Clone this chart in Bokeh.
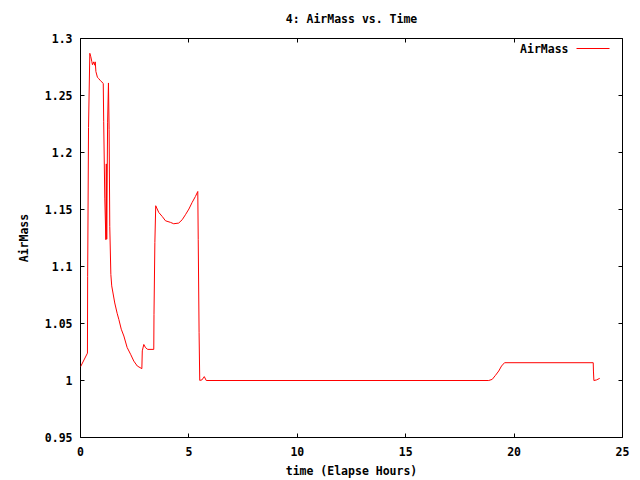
from bokeh.plotting import figure
from bokeh.models import (Range1d, FixedTicker, LinearAxis, CustomJSTickFormatter,
                          CustomLabelingPolicy, Label, Arrow)
from bokeh.embed import file_html
from bokeh.resources import INLINE

# ---- data ----
time_h = [0.0, 0.32, 0.33, 0.37, 0.43, 0.475, 0.52, 0.55, 0.61, 0.65, 0.68, 0.71,
          0.78, 0.83, 0.92, 1.05, 1.07, 1.12, 1.17, 1.19, 1.21, 1.25, 1.29, 1.32,
          1.35, 1.40, 1.44, 1.58, 1.69, 1.77, 1.88, 2.0, 2.15, 2.31, 2.46, 2.62,
          2.83, 2.85, 2.92, 3.0, 3.1, 3.38, 3.39, 3.43, 3.47, 3.61, 3.77, 3.92,
          4.15, 4.30, 4.53, 4.69, 4.84, 5.0, 5.15, 5.30, 5.41, 5.43, 5.47, 5.50,
          5.60, 5.71, 5.80, 18.83, 18.99, 19.14, 19.29, 19.42, 19.56, 23.65,
          23.66, 23.68, 23.8, 23.95]
airmass = [1.012, 1.024, 1.091, 1.222, 1.287, 1.284, 1.280, 1.277, 1.2795, 1.2766,
           1.2795, 1.271, 1.266, 1.265, 1.263, 1.2606, 1.227, 1.160, 1.1235, 1.19,
           1.124, 1.226, 1.261, 1.220, 1.135, 1.093, 1.083, 1.068, 1.059, 1.0535,
           1.045, 1.039, 1.029, 1.023, 1.017, 1.0127, 1.0104, 1.026, 1.0316, 1.0288,
           1.0273, 1.0273, 1.058, 1.121, 1.1533, 1.1474, 1.1439, 1.1401, 1.1387,
           1.1375, 1.1381, 1.141, 1.1454, 1.1504, 1.1562, 1.1614, 1.1658, 1.1235,
           1.0419, 1.0001, 1.0005, 1.0034, 1.0, 1.0, 1.001, 1.0045, 1.0083, 1.0127,
           1.0156, 1.0156, 1.0083, 1.0, 1.0005, 1.0019]
x_ticks = [0, 5, 10, 15, 20, 25]
y_ticks = [0.95, 1.0, 1.05, 1.1, 1.15, 1.2, 1.25, 1.3]
title_text = "4: AirMass vs. Time"
x_label = "time (Elapse Hours)"
y_label = "AirMass"
series_name = "AirMass"

FONT = "DejaVu Sans Mono"
FS = "11.5px"

p = figure(width=640, height=480, output_backend="svg", toolbar_location=None,
           x_range=Range1d(0, 25), y_range=Range1d(0.95, 1.3),
           min_border_left=80, min_border_right=18, min_border_top=38,
           min_border_bottom=42, title=title_text)
p.title.align = "center"
p.title.text_font = FONT
p.title.text_font_size = FS
p.title.text_font_style = "bold"
p.title.text_color = "black"
p.title.standoff = 18

p.xgrid.visible = False
p.ygrid.visible = False
p.outline_line_color = "black"
p.outline_line_width = 1
p.background_fill_color = "white"
p.border_fill_color = "white"

fmt = CustomJSTickFormatter(code="return String(Number(tick.toFixed(2)));")
no_labels = CustomLabelingPolicy(code="return [];")

def style_axis(ax, ticks, labels=True):
    ax.ticker = FixedTicker(ticks=ticks)
    ax.formatter = fmt
    ax.axis_line_color = None
    ax.major_tick_in = 4
    ax.major_tick_out = 0
    ax.minor_tick_in = 0
    ax.minor_tick_out = 0
    ax.major_tick_line_color = "black"
    ax.major_label_text_font = FONT
    ax.major_label_text_font_style = "bold"
    ax.major_label_text_color = "black"
    if labels:
        ax.major_label_text_font_size = FS
        ax.axis_label_text_font = FONT
        ax.axis_label_text_font_size = FS
        ax.axis_label_text_font_style = "bold"
        ax.axis_label_text_color = "black"
    else:
        ax.major_label_text_font_size = "1px"
        ax.major_label_standoff = 0
        ax.major_label_policy = no_labels

style_axis(p.xaxis[0], x_ticks)
style_axis(p.yaxis[0], y_ticks)
p.xaxis[0].axis_label = x_label
p.yaxis[0].axis_label = y_label
p.xaxis[0].major_label_standoff = 9
p.xaxis[0].axis_label_standoff = 5
p.yaxis[0].major_label_standoff = 8
p.yaxis[0].axis_label_standoff = 11

top_ax = LinearAxis()
style_axis(top_ax, x_ticks, labels=False)
p.add_layout(top_ax, "above")
right_ax = LinearAxis()
style_axis(right_ax, y_ticks, labels=False)
p.add_layout(right_ax, "right")

p.line(time_h, airmass, line_color="#ff0000", line_width=1)

# gnuplot-style key: text then sample line, top right inside the frame
key_label = Label(x=488, y=389, x_units="screen", y_units="screen", text=series_name,
                  text_font=FONT, text_font_size=FS, text_font_style="bold",
                  text_align="right", text_baseline="middle", text_color="black")
p.add_layout(key_label)
key_line = Arrow(end=None, x_start=496, y_start=389, x_end=529, y_end=389,
                 start_units="screen", end_units="screen",
                 line_color="#ff0000", line_width=1)
p.add_layout(key_line)

open("out.html", "w").write(file_html(p, INLINE))
